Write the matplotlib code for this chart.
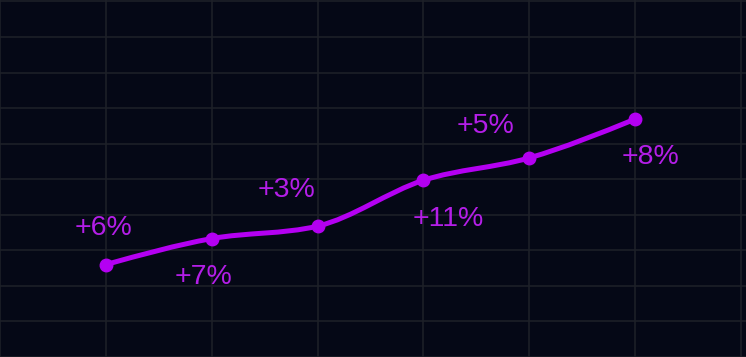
import numpy as np
import matplotlib.pyplot as plt
from matplotlib.path import Path
from matplotlib.patches import PathPatch

# data
x_pos = [0, 1, 2, 3, 4, 5]
values = [26.0, 33.3, 36.8, 49.7, 56.0, 66.9]
labels = ['+6%', '+7%', '+3%', '+11%', '+5%', '+8%']
# label offsets in pixels (dx, dy of text centre from the point)
label_dx = [-2, -8, -31, 25, -44, 15]
label_dy = [40, -35, 39, -36, 35, -35]

bg = '#050816'
purple = '#b400f2'
text_col = '#b41ee8'
grid_col = '#1d2028'


def monotone_tangents(x, y):
    # same tangents as d3 curveMonotoneX
    x = np.asarray(x, float)
    y = np.asarray(y, float)
    n = len(x)
    h = np.diff(x)
    s = np.diff(y) / h
    t = np.zeros(n)
    for i in range(1, n - 1):
        p = (s[i - 1] * h[i] + s[i] * h[i - 1]) / (h[i - 1] + h[i])
        t[i] = (np.sign(s[i - 1]) + np.sign(s[i])) * min(abs(s[i - 1]), abs(s[i]), 0.5 * abs(p))
    t[0] = (3 * s[0] - t[1]) / 2
    t[-1] = (3 * s[-1] - t[-2]) / 2
    return t


fig = plt.figure(figsize=(7.46, 3.57), dpi=100)
fig.patch.set_facecolor(bg)
ax = fig.add_axes([0, 0, 1, 1])
ax.set_facecolor(bg)

ax.set_xlim(-105 / 106, 641 / 106)
ax.set_ylim(0.4, 100.4)
ax.set_xticks(np.arange(-1, 7))
ax.set_yticks(np.arange(0, 101, 10))
ax.grid(True, color=grid_col, linewidth=1.2)
ax.tick_params(length=0, labelbottom=False, labelleft=False)
for sp in ax.spines.values():
    sp.set_visible(False)
ax.set_axisbelow(True)

# smooth line made of bezier pieces between the points
t = monotone_tangents(x_pos, values)
verts = [(x_pos[0], values[0])]
codes = [Path.MOVETO]
for i in range(len(x_pos) - 1):
    dx = x_pos[i + 1] - x_pos[i]
    verts += [(x_pos[i] + dx / 3, values[i] + dx * t[i] / 3),
              (x_pos[i + 1] - dx / 3, values[i + 1] - dx * t[i + 1] / 3),
              (x_pos[i + 1], values[i + 1])]
    codes += [Path.CURVE4] * 3
ax.add_patch(PathPatch(Path(verts, codes), facecolor='none', edgecolor=purple,
                       linewidth=3.6, capstyle='round', joinstyle='round', zorder=3))
ax.plot(x_pos, values, linestyle='none', marker='o', markersize=9,
        color=purple, zorder=4)

for i in range(len(x_pos)):
    ax.annotate(labels[i], (x_pos[i], values[i]),
                xytext=(label_dx[i], label_dy[i] - 10), textcoords='offset pixels',
                ha='center', va='baseline', fontsize=20.5,
                family='Liberation Sans', color=text_col, zorder=5)

fig.savefig('out.png', dpi=100, facecolor=bg)
